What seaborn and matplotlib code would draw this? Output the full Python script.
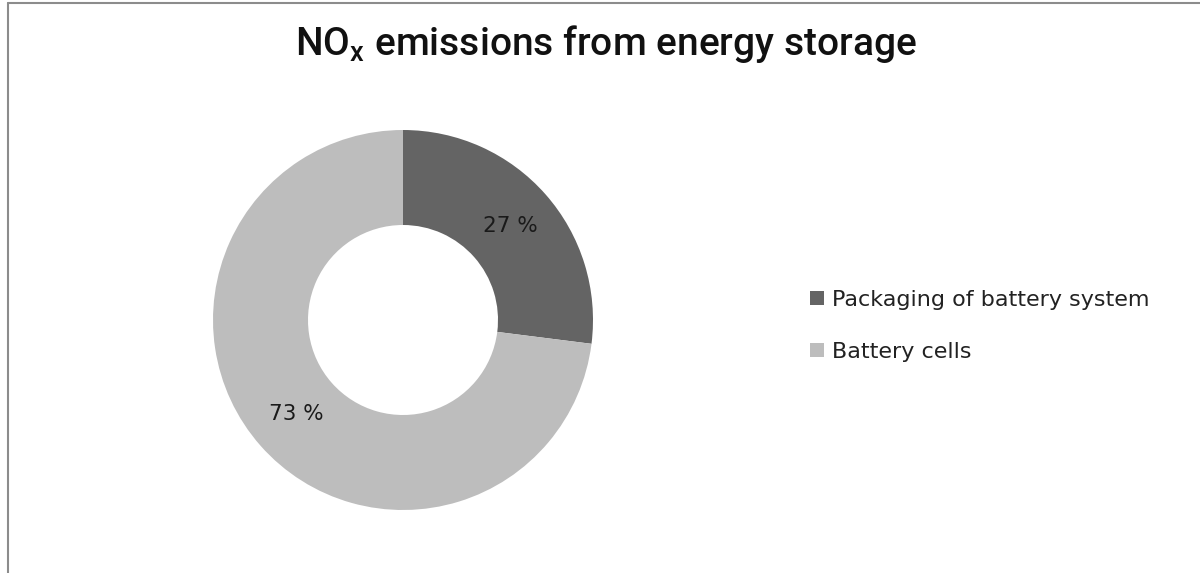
import matplotlib
matplotlib.use("Agg")
import matplotlib.pyplot as plt
import seaborn as sns
from matplotlib.patches import Patch

# --- data ---
categories = ["Packaging of battery system", "Battery cells"]
shares = [27, 73]
colors = ["#646464", "#bdbdbd"]

sns.set_theme(style="white")
plt.rcParams["font.family"] = ["DejaVu Sans"]

fig = plt.figure(figsize=(12, 5.73), dpi=100)
fig.patch.set_facecolor("white")

# donut axes: centre ~(403, 320) px, radius ~190 px
ax = fig.add_axes([213 / 1200, (573 - 510) / 573, 380 / 1200, 380 / 573])
wedges, _, autotexts = ax.pie(
    shares, colors=colors, startangle=90, counterclock=False,
    wedgeprops=dict(width=0.5, linewidth=0), autopct="%d %%",
    pctdistance=0.75, textprops=dict(fontsize=15.5, color="#1a1a1a"))
ax.set_xlim(-1, 1)
ax.set_ylim(-1, 1)
ax.set_aspect("equal")
ax.axis("off")

fig.text(606 / 1200, 1 - 55 / 573, r"NO$_\mathregular{x}$ emissions from energy storage",
         ha="center", va="baseline", fontsize=28, fontweight="medium",
         family=["Roboto", "DejaVu Sans"], color="#111111")

handles = [Patch(facecolor=c, edgecolor="none") for c in colors]
fig.legend(handles, categories, loc="center left",
           bbox_to_anchor=(799 / 1200, 1 - 326 / 573), frameon=False,
           borderpad=0, fontsize=16, handlelength=0.62, handleheight=0.62,
           handletextpad=0.35, labelspacing=1.45, labelcolor="#222222")

# chart-area border remnants (left and top edges)
fig.add_artist(plt.Line2D([8 / 1200, 8 / 1200], [0, 1 - 3 / 573],
                          transform=fig.transFigure, color="#8c8c8c", lw=1.5))
fig.add_artist(plt.Line2D([8 / 1200, 1], [1 - 3 / 573, 1 - 3 / 573],
                          transform=fig.transFigure, color="#8c8c8c", lw=1.5))

fig.savefig("out.png", dpi=100, facecolor="white")
